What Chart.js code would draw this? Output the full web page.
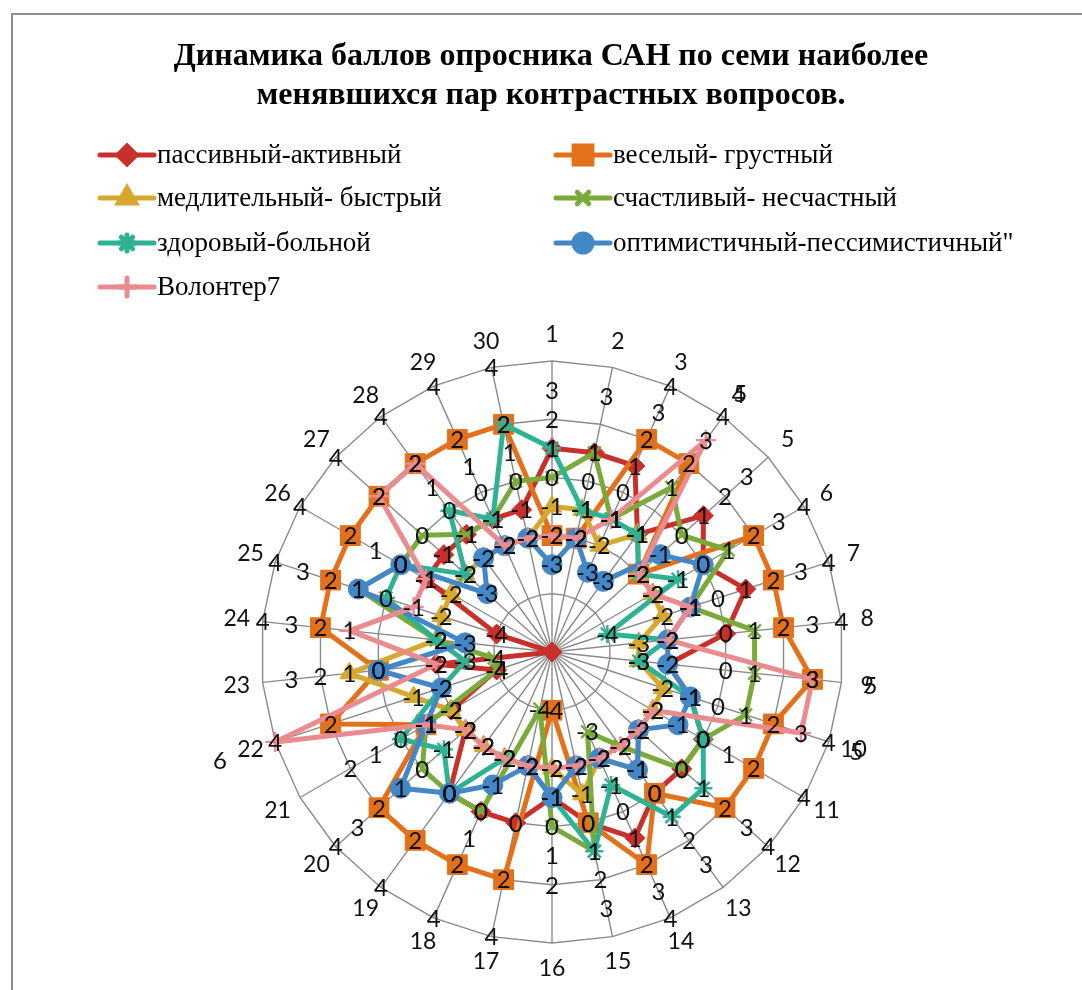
<!DOCTYPE html>
<html>
<head>
<meta charset="utf-8">
<script src="https://cdn.jsdelivr.net/npm/chart.js@4.4.1/dist/chart.umd.min.js"></script>
<style>
  html, body { margin: 0; padding: 0; background: #fff; }
  #wrap { position: relative; width: 1082px; height: 990px; }
</style>
</head>
<body>
<div id="wrap"><canvas id="radar" width="1082" height="990"></canvas></div>
<script>
// categories (question numbers)
var categories = ['1','2','3','4','5','6','7','8','9','10','11','12','13','14','15',
                  '16','17','18','19','20','21','22','23','24','25','26','27','28','29','30'];

var titleLines = ['Динамика баллов опросника САН по семи наиболее',
                  'менявшихся пар контрастных вопросов.'];

var seriesNames = ['пассивный-активный', 'веселый- грустный', 'медлительный- быстрый',
                   'счастливый- несчастный', 'здоровый-больной',
                   'оптимистичный-пессимистичный"', 'Волонтер7'];

var passive  = [1, 1, 1, -1, 1, 0, 1, 0, -2, -1, 0, 0, 0, 1, 0, -1, 0, 0, 0, -2, -2, -4, -2, -6, -4, -1, -1, -1, -1, -1];
var cheerful = [-2, -2, 2, 2, -2, 2, 2, 2, 3, 2, 2, 2, 0, 2, 0, -4, 2, 2, 2, 2, -1, 2, 0, 2, 2, 2, 2, 2, 2, 2];
var slow     = [-1, -1, -2, -1, -2, -2, -2, -3, -3, -2, -2, -2, -1, -2, -1, -2, -2, -2, -2, -2, -2, -1, 1, -2, -2, -2, -2, -2, -2, -2];
var happy    = [0, 1, -1, 1, 0, 1, -1, 1, 1, 1, 0, 0, -2, -3, 1, 0, -4, 0, 0, 0, -1, -4, -4, -2, 1, 0, 0, -1, -1, 0];
var healthy  = [1, -1, -1, -1, -2, -1, -4, -2, -3, -1, 0, 1, 1, -1, 1, -1, -2, -2, 0, -1, 0, -2, -3, -2, 0, 0, -2, 0, -1, 2];
var optimist = [-3, -2, -3, -3, -1, 0, -1, -2, -2, -1, -1, -2, -1, -2, -2, -1, -2, -1, 0, 1, -1, -2, 0, -3, 1, 0, -3, -2, -2, -2];
var volunteer7 = [-2, -2, -1, 3, -2, -2, -1, -2, 3, 3, -2, -2, -2, -2, -2, -2, -2, -2, -2, -2, -1, 4, -2, 1, -1, -1, 2, 2, -2, -2];

// series of the original sheet that have no line, only their value labels remain
var hiddenA = [null, null, 4, 4, null, 4, 4, 4, 5, 4, 4, 4, null, 4, null, null, 4, 4, 4, 4, null, 6, null, 4, 4, 4, 4, 4, 4, 4];
var hiddenB = [3, 3, 3, 5, 3, 3, 3, 3, null, 5, null, 3, 3, 3, 3, null, null, null, null, 3, null, null, 3, 3, 3, null, null, null, null, null];
var hiddenC = [2, 0, 0, null, 2, null, 0, null, 0, 0, 1, null, 2, 0, 2, 2, null, 1, null, null, 2, null, 2, null, null, 1, null, 1, 1, 1];
var hiddenD = [null, null, null, null, null, null, null, null, null, null, null, null, null, null, null, 1, null, null, null, null, 1, null, null, null, null, null, null, null, 0, null];

var colors = ['#C8302C', '#E3701A', '#D5A82E', '#79AA3A', '#2DB293', '#4287C7', '#EA8C8F'];
var styles = ['rectRot', 'rect', 'triangle', 'crossRot', 'star', 'circle', 'cross'];
var radii  = [10, 14, 11, 9, 9, 10, 10];

var seriesData = [passive, cheerful, slow, happy, healthy, optimist, volunteer7];

var datasets = seriesData.map(function(d, i) {
  return {
    label: seriesNames[i],
    data: d,
    borderColor: colors[i],
    backgroundColor: colors[i],
    pointBackgroundColor: colors[i],
    pointBorderColor: colors[i],
    pointStyle: styles[i],
    pointRadius: radii[i],
    pointBorderWidth: (styles[i] === 'crossRot' || styles[i] === 'star' || styles[i] === 'cross') ? 2.4 : 1,
    borderWidth: 5,
    borderJoinStyle: 'round',
    fill: false,
    order: 7 - i,
    showValues: true,
    inLegend: true
  };
});

[hiddenA, hiddenB, hiddenC, hiddenD].forEach(function(d, k) {
  datasets.push({
    label: 'hidden' + k,
    data: d,
    borderColor: 'rgba(0,0,0,0)',
    backgroundColor: 'rgba(0,0,0,0)',
    pointRadius: 0,
    borderWidth: 0,
    showLine: false,
    fill: false,
    order: 10,
    showValues: true,
    inLegend: false
  });
});

var frameAndTitle = {
  id: 'frameAndTitle',
  beforeDraw: function(chart) {
    var ctx = chart.ctx;
    ctx.save();
    ctx.strokeStyle = '#8c8c8c';
    ctx.lineWidth = 2;
    ctx.beginPath();
    ctx.moveTo(12, 990);
    ctx.lineTo(12, 14);
    ctx.lineTo(1082, 14);
    ctx.stroke();

    ctx.fillStyle = '#000';
    ctx.textAlign = 'center';
    ctx.textBaseline = 'middle';
    ctx.font = 'bold 32px "Liberation Serif"';
    ctx.fillText(titleLines[0], 551, 57);
    ctx.fillText(titleLines[1], 551, 96);

    // legend, two columns like the sheet
    var rowsY = [155, 198, 243, 287];
    ctx.font = '27px "Liberation Serif"';
    ctx.textAlign = 'left';
    chart.data.datasets.forEach(function(ds, i) {
      if (!ds.inLegend) return;
      var x0 = (i % 2) ? 556 : 100;
      var y = rowsY[Math.floor(i / 2)];
      ctx.strokeStyle = ds.borderColor;
      ctx.lineWidth = 5;
      ctx.lineCap = 'round';
      ctx.beginPath();
      ctx.moveTo(x0, y);
      ctx.lineTo(x0 + 54, y);
      ctx.stroke();
      ctx.fillStyle = ds.borderColor;
      Chart.helpers.drawPoint(ctx, {
        pointStyle: ds.pointStyle, rotation: 0,
        radius: ds.pointRadius * 0.9, borderWidth: ds.pointBorderWidth
      }, x0 + 27, y);
      ctx.fillStyle = '#000';
      ctx.fillText(ds.label, x0 + 57, y + 1);
    });
    ctx.restore();
  },
  afterDatasetsDraw: function(chart) {
    var ctx = chart.ctx;
    var s = chart.scales.r;
    ctx.save();
    ctx.fillStyle = '#111';
    ctx.textAlign = 'center';
    ctx.textBaseline = 'middle';
    ctx.font = '23px Lato';
    // category labels round the outer ring
    categories.forEach(function(c, i) {
      var p = s.getPointPosition(i, s.drawingArea + 26);
      ctx.fillText(c, p.x, p.y);
    });
    // value labels
    ctx.font = '24px Lato';
    chart.data.datasets.forEach(function(ds, i) {
      if (!ds.showValues) return;
      var meta = chart.getDatasetMeta(i);
      meta.data.forEach(function(pt, j) {
        var v = ds.data[j];
        if (v === null || v === undefined || v <= s.min) return;
        ctx.fillText(String(v), pt.x, pt.y + 1);
      });
    });
    ctx.restore();
  }
};

var ctx = document.getElementById('radar').getContext('2d');
var chart = new Chart(ctx, {
  type: 'radar',
  data: { labels: categories, datasets: datasets },
  options: {
    responsive: false,
    animation: false,
    devicePixelRatio: 1,
    layout: { padding: { left: 261, top: 361, right: 239, bottom: 47 } },
    plugins: {
      legend: { display: false },
      title: { display: false },
      tooltip: { enabled: false }
    },
    elements: { line: { tension: 0 } },
    scales: {
      r: {
        min: -6,
        max: 4,
        ticks: { stepSize: 2, display: false },
        pointLabels: { display: false },
        grid: { color: '#8a8a8a', lineWidth: 1.4 },
        angleLines: { color: '#8a8a8a', lineWidth: 1.4 }
      }
    }
  },
  plugins: [frameAndTitle]
});
</script>
</body>
</html>
